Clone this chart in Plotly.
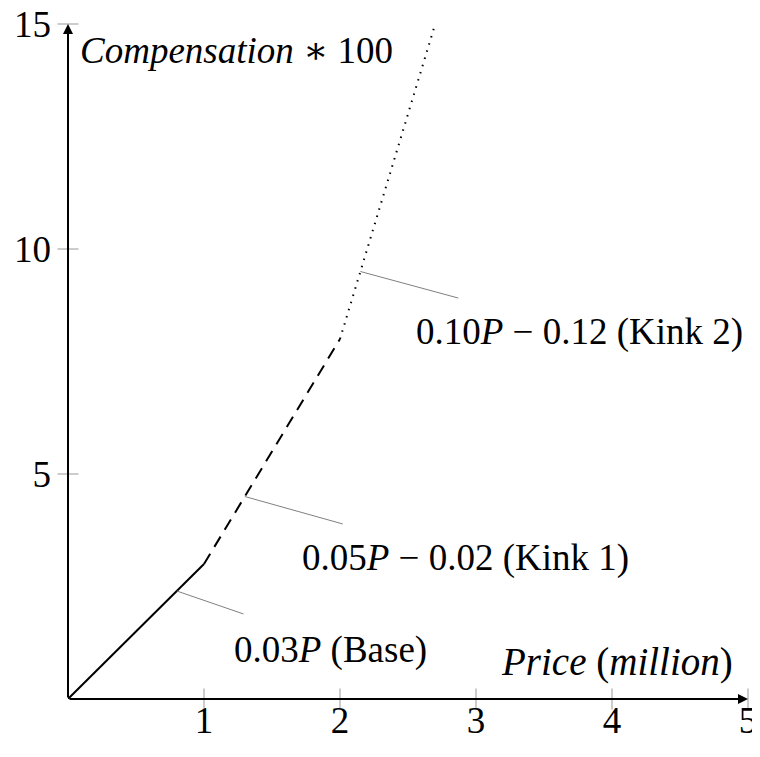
import plotly.graph_objects as go

# ---- data ----
base_x = [0, 1]
base_y = [0, 3]
kink1_x = [1, 2]
kink1_y = [3, 8]
kink2_x = [2, 2.7]
kink2_y = [8, 15]

x_ticks = [1, 2, 3, 4, 5]
y_ticks = [5, 10, 15]

# pin annotations: (point on curve, label anchor, text)
pins = [
    ((0.8, 2.4), (1.29, 1.89), (1.93, 1.09), "0.03<i>P</i> (Base)"),
    ((1.3, 4.5), (2.02, 3.89), (2.92, 3.13), "0.05<i>P</i> − 0.02 (Kink 1)"),
    ((2.15, 9.5), (2.87, 8.91), (3.76, 8.16), "0.10<i>P</i> − 0.12 (Kink 2)"),
]

FONT = "Liberation Serif, Times New Roman, DejaVu Serif, serif"
FS = 37

fig = go.Figure()

fig.add_trace(go.Scatter(x=base_x, y=base_y, mode="lines",
                         line=dict(color="black", width=2), cliponaxis=False))
fig.add_trace(go.Scatter(x=kink1_x, y=kink1_y, mode="lines",
                         line=dict(color="black", width=2, dash="12px,8px"), cliponaxis=False))
fig.add_trace(go.Scatter(x=kink2_x, y=kink2_y, mode="lines",
                         line=dict(color="black", width=2, dash="1.5px,6px"), cliponaxis=False))

# tick marks crossing the axes
fig.add_trace(go.Scatter(x=x_ticks, y=[0] * len(x_ticks), mode="markers",
                         marker=dict(symbol="line-ns", size=15,
                                     line=dict(color="#999999", width=1)),
                         cliponaxis=False))
fig.add_trace(go.Scatter(x=[0] * len(y_ticks), y=y_ticks, mode="markers",
                         marker=dict(symbol="line-ew", size=15,
                                     line=dict(color="#999999", width=1)),
                         cliponaxis=False))

# leader lines
for (p, q, c, t) in pins:
    fig.add_trace(go.Scatter(x=[p[0], q[0]], y=[p[1], q[1]], mode="lines",
                             line=dict(color="#808080", width=1), cliponaxis=False))

annotations = []
for (p, q, c, t) in pins:
    annotations.append(dict(x=c[0], y=c[1], xref="x", yref="y", text=t,
                            showarrow=False, font=dict(family=FONT, size=FS, color="black")))

# axes arrows
annotations.append(dict(x=5, y=0, ax=0, ay=0, xref="x", yref="y", axref="x", ayref="y",
                        text="", showarrow=True, arrowhead=2, arrowsize=1, arrowwidth=2,
                        arrowcolor="black"))
annotations.append(dict(x=0, y=15, ax=0, ay=0, xref="x", yref="y", axref="x", ayref="y",
                        text="", showarrow=True, arrowhead=2, arrowsize=1, arrowwidth=2,
                        arrowcolor="black"))

# axis labels
annotations.append(dict(x=1.24, y=14.42, xref="x", yref="y",
                        text="<i>Compensation</i> ∗ 100", showarrow=False,
                        font=dict(family=FONT, size=FS, color="black")))
annotations.append(dict(x=4.04, y=0.82, xref="x", yref="y",
                        text="<i>Price</i> (<i>million</i>)", showarrow=False,
                        font=dict(family=FONT, size=FS + 2, color="black")))

# page body adds an 8px margin, so the figure is shrunk and offsets are reduced by 8
fig.update_layout(
    width=752, height=733,
    margin=dict(l=60, r=12, t=16, b=42, autoexpand=False),
    paper_bgcolor="white", plot_bgcolor="white",
    showlegend=False,
    annotations=annotations,
    font=dict(family=FONT, size=FS, color="black"),
    xaxis=dict(range=[0, 5], tickvals=x_ticks, ticktext=[str(v) for v in x_ticks],
               showgrid=False, zeroline=False, showline=False, ticks="", automargin=False,
               ticklabeloverflow="allow",
               ticklabelstandoff=-4, tickfont=dict(family=FONT, size=FS)),
    yaxis=dict(range=[0, 15], tickvals=y_ticks, ticktext=[str(v) for v in y_ticks],
               showgrid=False, zeroline=False, showline=False, ticks="", automargin=False,
               ticklabeloverflow="allow",
               ticklabelstandoff=16, tickfont=dict(family=FONT, size=FS)),
)

fig.write_html("out.html")
